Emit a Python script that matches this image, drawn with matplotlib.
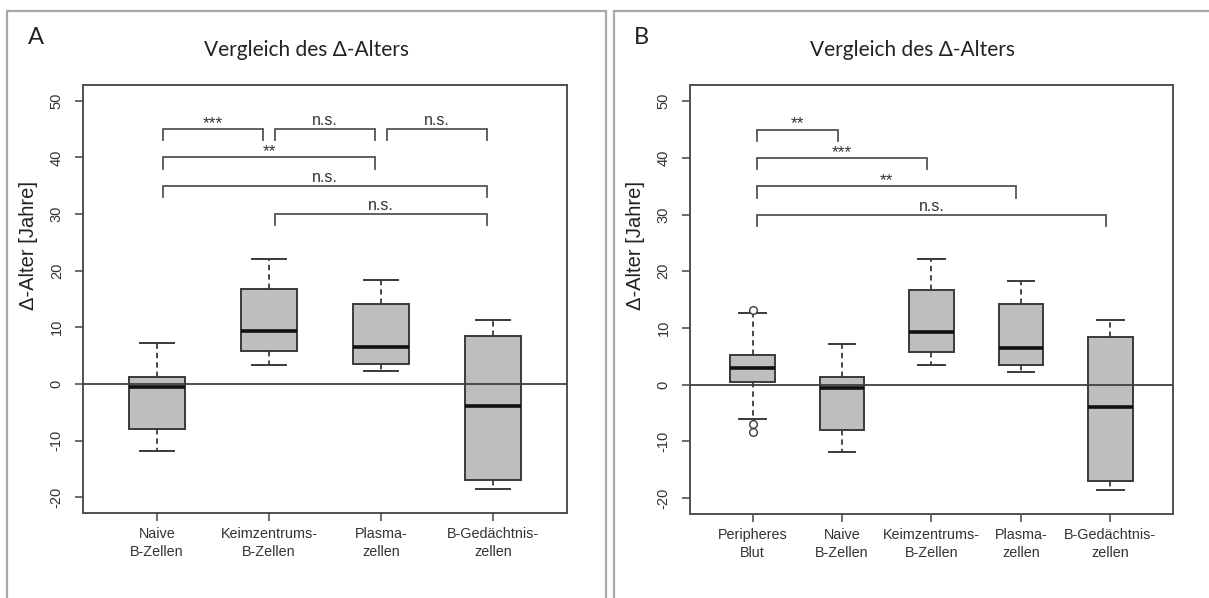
import matplotlib
matplotlib.use("Agg")
import matplotlib.pyplot as plt
from matplotlib.patches import Rectangle

# ---------------- data ----------------
labels_A = ["Naive\nB-Zellen", "Keimzentrums-\nB-Zellen", "Plasma-\nzellen", "B-Gedächtnis-\nzellen"]
labels_B = ["Peripheres\nBlut"] + labels_A

# five-number summaries
whislo = [-11.8, 3.4, 2.3, -18.6]
q1 = [-7.9, 5.8, 3.5, -17.0]
med = [-0.5, 9.35, 6.55, -3.9]
q3 = [1.3, 16.7, 14.2, 8.4]
whishi = [7.25, 22.1, 18.3, 11.35]

pb_stats = dict(whislo=-6.1, q1=0.5, med=3.0, q3=5.25, whishi=12.6)
pb_fliers = [13.2, -7.0, -8.4]

# significance brackets: (from, to, height, label)
brackets_A = [(1, 2, 45, "***"), (2, 3, 45, "n.s."), (3, 4, 45, "n.s."),
              (1, 3, 40, "**"), (1, 4, 35, "n.s."), (2, 4, 30, "n.s.")]
brackets_B = [(1, 2, 45, "**"), (1, 3, 40, "***"), (1, 4, 35, "**"), (1, 5, 30, "n.s.")]

yticks = [-20, -10, 0, 10, 20, 30, 40, 50]
title = "Vergleich des Δ-Alters"
ylabel = "Δ-Alter [Jahre]"

# ---------------- figure ----------------
W, H = 1209, 598
fig = plt.figure(figsize=(W / 100, H / 100), dpi=100)
fig.patch.set_facecolor("white")

def px(x0, y0, x1, y1):
    return [x0 / W, 1 - y1 / H, (x1 - x0) / W, (y1 - y0) / H]

axA = fig.add_axes(px(83.3, 85, 566.7, 513))
axB = fig.add_axes(px(690, 85.3, 1173, 514))

TXT = "Liberation Sans"
BOXC = "#3a3a3a"

def make_stats():
    stats = []
    for i in range(len(med)):
        stats.append(dict(whislo=whislo[i], q1=q1[i], med=med[i], q3=q3[i],
                          whishi=whishi[i], fliers=[]))
    return stats

def draw_panel(ax, stats, labels, brackets, pad, ylab_xy):
    n = len(stats)
    pos = list(range(1, n + 1))
    ax.bxp(stats, positions=pos, widths=0.5, patch_artist=True, showfliers=True,
           boxprops=dict(facecolor="#bebebe", edgecolor=BOXC, linewidth=1.4),
           medianprops=dict(color="#111111", linewidth=2.6),
           whiskerprops=dict(color=BOXC, linewidth=1.3, linestyle=(0, (3, 2.2))),
           capprops=dict(color=BOXC, linewidth=1.4),
           capwidths=0.3,
           flierprops=dict(marker="o", markersize=5.5, markerfacecolor="white",
                           markeredgecolor=BOXC, markeredgewidth=1.0))
    ax.axhline(0, color="#404040", linewidth=1.3, zorder=5)
    ax.set_xlim(1 - pad, n + pad)
    ax.set_ylim(-22.8, 52.8)
    ax.set_yticks(yticks)
    ax.set_yticklabels([str(v) for v in yticks], rotation=90, va="center",
                       fontfamily=TXT, fontsize=10.5, color="#333333")
    ax.set_xticks(pos)
    ax.set_xticklabels(labels, fontfamily=TXT, fontsize=10.4, color="#333333",
                       linespacing=1.35)
    ax.tick_params(axis="y", length=6, width=1.1, color="#444444", pad=8)
    ax.tick_params(axis="x", length=6, width=1.1, color="#444444", pad=4)
    for s in ax.spines.values():
        s.set_color("#505050")
        s.set_linewidth(1.4)
    ax.set_ylabel(ylabel, fontfamily=TXT, fontsize=14.5, color="#222222",
                  va="center")
    ax.yaxis.set_label_coords(*ylab_xy)
    for a, b, h, lab in brackets:
        xa, xb = a + 0.05, b - 0.05
        ax.plot([xa, xa, xb, xb], [h - 2, h, h, h - 2], color="#555555",
                linewidth=1.3, solid_joinstyle="miter", zorder=4)
        if "*" in lab:
            ax.annotate(lab, ((a + b) / 2, h), xytext=(0, -1.5), textcoords="offset points",
                        ha="center", va="bottom", fontfamily=TXT, fontsize=12.5,
                        color="#333333")
        else:
            ax.annotate(lab, ((a + b) / 2, h), xytext=(0, 0.5), textcoords="offset points",
                        ha="center", va="bottom", fontfamily=TXT, fontsize=11.5,
                        color="#333333")

statsA = make_stats()
draw_panel(axA, statsA, labels_A, brackets_A, 0.66, (-0.114, 0.626))

statsB = [dict(pb_stats, fliers=pb_fliers)] + make_stats()
draw_panel(axB, statsB, labels_B, brackets_B, 0.70, (-0.112, 0.627))

# panel frames
FR = "#a8a8a8"
fig.add_artist(Rectangle((7 / W, -0.2), (606 - 7) / W, 1.2 - 10.5 / H,
                         transform=fig.transFigure, fill=False, edgecolor=FR, linewidth=1.6))
fig.add_artist(Rectangle((614 / W, -0.2), 0.6, 1.2 - 10.5 / H,
                         transform=fig.transFigure, fill=False, edgecolor=FR, linewidth=1.6))

# titles and panel letters
TF = "Lato"
fig.text(306 / W, 1 - 50 / H, title, ha="center", va="center", fontfamily=TF,
         fontsize=15, color="#222222")
fig.text(913 / W, 1 - 50 / H, title, ha="center", va="center", fontfamily=TF,
         fontsize=15, color="#222222")
fig.text(36 / W, 1 - 38 / H, "A", ha="center", va="center", fontfamily=TF,
         fontsize=17, color="#222222")
fig.text(641 / W, 1 - 37 / H, "B", ha="center", va="center", fontfamily=TF,
         fontsize=17, color="#222222")

fig.savefig("out.png", dpi=100)
